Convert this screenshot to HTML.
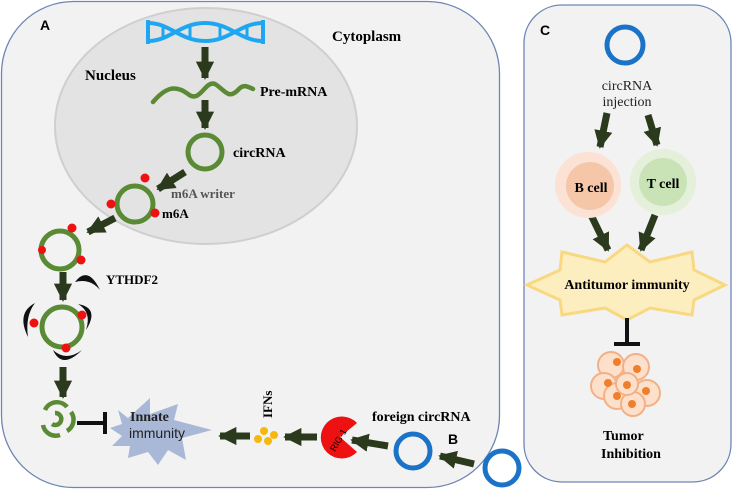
<!DOCTYPE html>
<html><head><meta charset="utf-8"><style>
html,body{margin:0;padding:0;background:#fff;}
svg{display:block;font-family:"Liberation Serif",serif;}
</style></head><body>
<svg width="748" height="490" viewBox="0 0 748 490" xmlns="http://www.w3.org/2000/svg">
<defs>
<marker id="ah" viewBox="0 0 10 10" refX="9" refY="5" markerWidth="2.6" markerHeight="2.6" orient="auto"><path d="M0,0 L10,5 L0,10 z" fill="#2b3a1d"/></marker>
</defs>
<rect x="1.5" y="1.5" width="498" height="486" rx="72" fill="#f2f2f2" stroke="#6f86b4" stroke-width="1.3"/>
<rect x="524" y="5" width="207" height="477" rx="38" fill="#f2f2f2" stroke="#6f86b4" stroke-width="1.3"/>
<ellipse cx="206" cy="126" rx="151" ry="118" fill="#e3e3e3" stroke="#cfcfcf" stroke-width="2"/>
<text x="40" y="30" font-family="Liberation Sans,sans-serif" font-weight="bold" font-size="14">A</text>
<text x="332" y="41" font-weight="bold" font-size="15">Cytoplasm</text>
<text x="85" y="80" font-weight="bold" font-size="15">Nucleus</text>
<g stroke="#1ea7f0" stroke-width="4" fill="none">
<path d="M148,23 C170,23 180,41 205,41 C230,41 240,23 263,23"/>
<path d="M148,41 C170,41 180,23 205,23 C230,23 240,41 263,41"/>
<line x1="148" y1="20" x2="148" y2="44"/><line x1="263" y1="20" x2="263" y2="44"/>
<line x1="163" y1="26" x2="163" y2="38" stroke-width="3"/><line x1="190" y1="26" x2="190" y2="38" stroke-width="3"/>
<line x1="220" y1="26" x2="220" y2="38" stroke-width="3"/><line x1="247" y1="26" x2="247" y2="38" stroke-width="3"/>
</g>
<g stroke="#2b3a1d" stroke-width="7" marker-end="url(#ah)" fill="none">
<line x1="205" y1="47" x2="205" y2="78"/>
<line x1="205" y1="100" x2="205" y2="128"/>
<line x1="185" y1="172" x2="158" y2="189"/>
<line x1="115" y1="218" x2="88" y2="232"/>
<line x1="63" y1="272" x2="63" y2="300"/>
<line x1="63" y1="367" x2="63" y2="397"/>
<line x1="250" y1="436" x2="220" y2="436"/>
<line x1="317" y1="437" x2="285" y2="437"/>
<line x1="388" y1="446" x2="352" y2="440"/>
<line x1="474" y1="464" x2="440" y2="456"/>
<line x1="607" y1="113" x2="600" y2="147"/>
<line x1="648" y1="115" x2="657" y2="145"/>
<line x1="591" y1="215" x2="608" y2="250"/>
<line x1="655" y1="215" x2="641" y2="250"/>
</g>
<path d="M153,102 C165,88 175,84 188,94 C200,104 205,80 215,84 C225,90 228,100 238,90 C243,84 247,86 253,89" stroke="#5a8a34" stroke-width="4.5" fill="none" stroke-linecap="round"/>
<text x="260" y="96" font-weight="bold" font-size="14">Pre-mRNA</text>
<g fill="none" stroke="#5a8a34" stroke-width="5">
<circle cx="205" cy="152" r="17"/>
<circle cx="135" cy="204" r="18"/>
<circle cx="60" cy="250" r="19"/>
<circle cx="62" cy="327" r="20"/>
</g>
<text x="233" y="157" font-weight="bold" font-size="14">circRNA</text>
<text x="171" y="198" font-weight="bold" font-size="13" fill="#555">m6A writer</text>
<text x="162" y="218" font-weight="bold" font-size="13">m6A</text>
<text x="106" y="284" font-weight="bold" font-size="13">YTHDF2</text>
<g fill="#ee1111">
<circle cx="145" cy="178" r="4.5"/><circle cx="111" cy="204" r="4.5"/><circle cx="155" cy="213" r="4.5"/>
<circle cx="72" cy="228" r="4.5"/><circle cx="42" cy="250" r="4"/><circle cx="81" cy="260" r="4.5"/>
<circle cx="82" cy="315" r="4.5"/><circle cx="34" cy="323" r="4.5"/><circle cx="66" cy="348" r="4.5"/>
</g>
<g fill="#111">
<path d="M75,282 Q88,265 100,290 Q90,278 75,282 z"/>
<path d="M78,304 Q100,308 86,330 Q92,312 78,304 z"/>
<path d="M35,303 Q16,313 28,337 Q25,316 35,303 z"/>
<path d="M53,350 Q62,370 82,350 Q66,362 53,350 z"/>
</g>
<g fill="none" stroke="#5a8a34" stroke-width="4.5">
<path d="M45,410 A13,13 0 0 1 67,407"/><path d="M71,412 A13,13 0 0 1 67,431"/><path d="M60,435 A13,13 0 0 1 43,425"/>
<path d="M55,413 A6,6 0 1 1 52,424"/>
</g>
<path d="M77,423 L104,423 M105,412 L105,434" stroke="#111" stroke-width="4"/>
<polygon points="118,410 128,418 150,398 150,414 178,404 174,420 212,430 182,438 186,460 168,450 158,465 148,452 128,458 130,446 112,446 122,436 110,428 122,424" fill="#a8b8d6"/>
<text x="130" y="421" font-weight="bold" font-size="14" fill="#222">Innate</text>
<text x="129" y="438" font-family="Liberation Sans,sans-serif" font-size="14" fill="#222">immunity</text>
<g fill="#f6b80f">
<circle cx="264" cy="431" r="4"/><circle cx="258" cy="439" r="4"/><circle cx="268" cy="441" r="4"/><circle cx="274" cy="435" r="4"/>
</g>
<text transform="translate(272,418) rotate(-90)" font-weight="bold" font-size="13">IFNs</text>
<path d="M340,437 L357,423 A21,21 0 1 0 357,452 z" fill="#ee1111"/>
<text transform="translate(335,452) rotate(-60)" font-family="Liberation Sans,sans-serif" font-size="9">RIG-1</text>
<text x="372" y="421" font-weight="bold" font-size="14">foreign circRNA</text>
<text x="448" y="444" font-family="Liberation Sans,sans-serif" font-weight="bold" font-size="14">B</text>
<circle cx="413" cy="451" r="17" fill="none" stroke="#1a73c6" stroke-width="5"/>
<circle cx="502" cy="468" r="17" fill="none" stroke="#1a73c6" stroke-width="5"/>
<text x="540" y="35" font-family="Liberation Sans,sans-serif" font-weight="bold" font-size="14">C</text>
<circle cx="625" cy="45" r="18" fill="none" stroke="#1a73c6" stroke-width="5"/>
<text x="627" y="90" text-anchor="middle" font-size="14" fill="#222">circRNA</text>
<text x="627" y="106" text-anchor="middle" font-size="14" fill="#222">injection</text>
<circle cx="588" cy="185" r="33" fill="#fbe2d5"/><circle cx="590" cy="186" r="24" fill="#f5c6a8"/>
<circle cx="663" cy="182" r="33" fill="#e4f0da"/><circle cx="663" cy="182" r="24" fill="#c9e3b7"/>
<text x="591" y="192" text-anchor="middle" font-weight="bold" font-size="14">B cell</text>
<text x="663" y="188" text-anchor="middle" font-weight="bold" font-size="14">T cell</text>
<polygon points="527,285 560,270 562,252 605,262 627,245 650,262 692,252 694,270 725,285 694,300 692,315 650,308 627,320 605,308 562,315 560,300" fill="#fdeec0" stroke="#f8d880" stroke-width="3"/>
<text x="627" y="289" text-anchor="middle" font-weight="bold" font-size="14">Antitumor immunity</text>
<path d="M627,318 L627,343 M614,344 L640,344" stroke="#111" stroke-width="4"/>
<g fill="#fde0cc" stroke="#f4b085" stroke-width="2">
<circle cx="611" cy="365" r="13"/><circle cx="636" cy="367" r="13"/><circle cx="604" cy="386" r="13"/>
<circle cx="617" cy="396" r="13"/><circle cx="647" cy="393" r="13"/><circle cx="633" cy="404" r="12"/><circle cx="627" cy="384" r="11"/>
</g>
<g fill="#f07f2c">
<circle cx="617" cy="362" r="4"/><circle cx="637" cy="369" r="4"/><circle cx="608" cy="383" r="4"/><circle cx="627" cy="385" r="4"/>
<circle cx="617" cy="396" r="4"/><circle cx="646" cy="391" r="4"/><circle cx="632" cy="404" r="4"/>
</g>
<text x="603" y="440" font-weight="bold" font-size="14">Tumor</text>
<text x="601" y="458" font-weight="bold" font-size="14">Inhibition</text>
</svg>
</body></html>
